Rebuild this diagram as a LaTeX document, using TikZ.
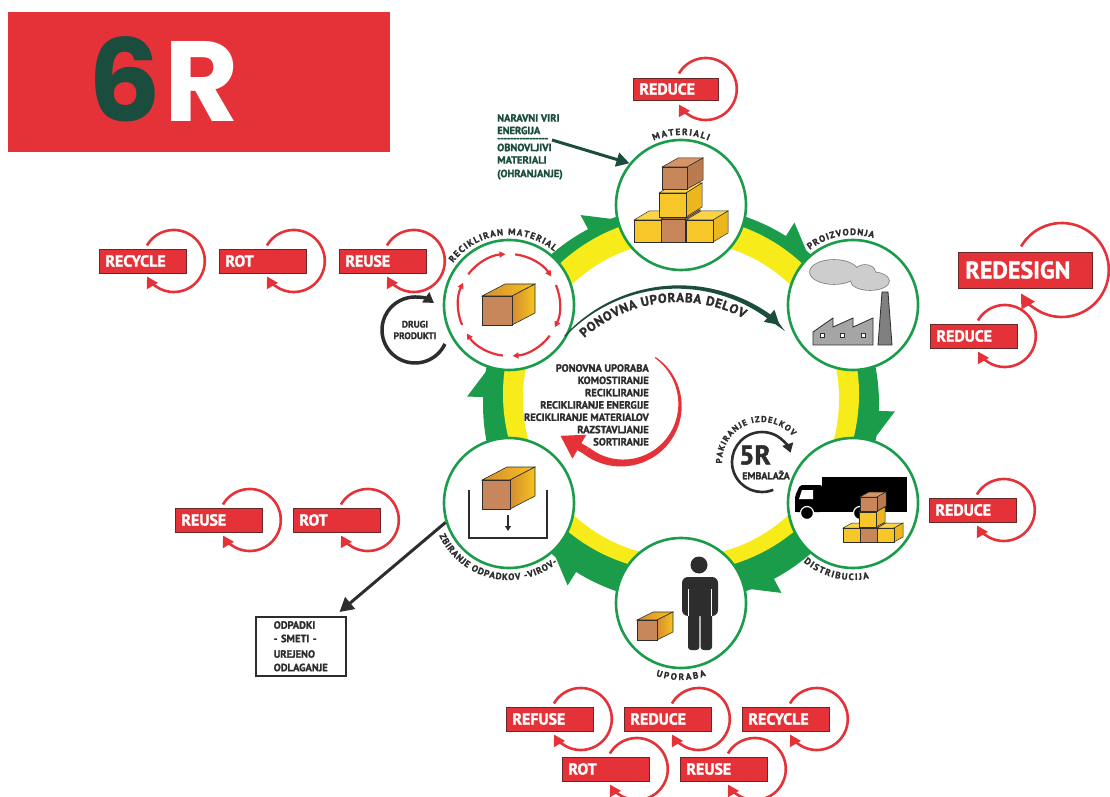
\documentclass[tikz,border=0pt]{standalone}
\usepackage{fontspec}
\setmainfont{PT Sans}[BoldFeatures={FakeBold=1.5}]
\newfontfamily\titlefont{Poppins}
\usepackage{xcolor}
\definecolor{red-600}{RGB}{229,50,56}
\definecolor{red-900}{RGB}{105,40,40}
\definecolor{green-600}{RGB}{26,156,74}
\definecolor{green-900}{RGB}{27,77,62}
\definecolor{yellow-400}{RGB}{247,236,26}
\definecolor{gray-800}{RGB}{45,45,45}
\definecolor{gray-500}{RGB}{128,128,128}
\definecolor{gray-400}{RGB}{165,165,165}
\definecolor{gray-300}{RGB}{205,205,205}
\definecolor{box-orange}{RGB}{214,140,50}
\definecolor{box-gold}{RGB}{246,196,30}
\definecolor{yel-front}{RGB}{247,198,40}
\definecolor{yel-top}{RGB}{250,212,70}
\definecolor{yel-side}{RGB}{236,182,30}
\definecolor{brn-front}{RGB}{200,135,90}
\definecolor{brn-top}{RGB}{212,148,102}
\definecolor{brn-side}{RGB}{186,122,80}
\usetikzlibrary{arrows.meta,decorations.text,positioning}

\newcommand{\ringfont}{\bfseries\fontsize{9.2}{10}\selectfont}
\newcommand{\tagfont}{\bfseries\fontsize{16}{18}\selectfont}
\newcommand{\bigtagfont}{\bfseries\fontsize{24}{26}\selectfont}
\newcommand{\notefont}{\bfseries\fontsize{10.5}{12.5}\selectfont}

% x, y, width, height, depth x, depth y, colour set
\newcommand{\crate}[7]{%
  \filldraw[draw=gray-800, line width=0.5pt, fill=#7-top] (#1,#2+#4) -- ++(#5,#6) -- ++(#3,0) -- ++(-#5,-#6) -- cycle;
  \filldraw[draw=gray-800, line width=0.5pt, fill=#7-side] (#1+#3,#2) -- ++(#5,#6) -- ++(0,#4) -- ++(-#5,-#6) -- cycle;
  \filldraw[draw=gray-800, line width=0.5pt, fill=#7-front] (#1,#2) rectangle ++(#3,#4);
}
% brown parcel with a golden lid
\newcommand{\parcel}[6]{%
  \shadedraw[draw=gray-800, line width=0.6pt, left color=box-orange, right color=box-gold] (#1,#2+#4) -- ++(#5,#6) -- ++(#3,0) -- ++(-#5,-#6) -- cycle;
  \shadedraw[draw=gray-800, line width=0.6pt, left color=box-orange, right color=box-gold] (#1+#3,#2) -- ++(#5,#6) -- ++(0,#4) -- ++(-#5,-#6) -- cycle;
  \filldraw[draw=gray-800, line width=0.6pt, fill=brn-front] (#1,#2) rectangle ++(#3,#4);
}

\begin{document}
\begin{tikzpicture}[
    x=1pt, y=1pt,
    stage/.style={
        circle,
        draw=green-600,
        line width=2.6pt,
        fill=white,
        minimum size=130pt,
        inner sep=0pt
    },
    rtag/.style={
        anchor=west,
        fill=red-600,
        draw=red-900,
        line width=0.8pt,
        text=white,
        font=\tagfont,
        minimum height=24pt,
        text width=75pt,
        inner xsep=6pt,
        inner ysep=0pt,
        align=left
    },
    tag loop/.style={red-600, line width=2.6pt, -{Triangle[length=11pt,width=12pt]}},
    ring label/.style={
        decorate,
        decoration={text along path, text color=gray-800, text align={fit to path}, text={|\ringfont|#1}}
    },
    cycle arrow/.style={red-600, line width=2.2pt, -{Triangle[length=6pt,width=6pt]}},
    dark arrow/.style={gray-800, line width=3.5pt, -{Triangle[length=9pt,width=11pt]}}
]
\useasboundingbox (0,0) rectangle (1110,796);

% Title banner
\node[fill=red-600, minimum width=382pt, minimum height=140pt, inner sep=0pt, anchor=south west] (banner) at (8,644) {};
\node[anchor=base west, inner sep=0pt, font=\titlefont\bfseries\fontsize{114}{114}\selectfont] (title) at (88,674)
    {\textcolor{green-900}{6}\kern4pt\textcolor{white}{R}};

% Ring of arrows
\coordinate (hub) at (681,392);
\fill[green-600] (hub) circle (198);
\fill[yellow-400] (681,402) circle (178);
\fill[white] (681,397) circle (158);
\foreach \e in {90,30,-30,-90,-150,150}
    \fill[green-600] ([shift={(\e+28:195)}]hub) -- ([shift={(\e+28:214)}]hub) -- ([shift={(\e+19:195)}]hub) -- cycle;

% Stages
\node[stage] (s1) at (681,591) {};
\node[stage] (s2) at (853,491) {};
\node[stage] (s3) at (853,293) {};
\node[stage] (s4) at (681,193) {};
\node[stage] (s5) at (509,293) {};
\node[stage] (s6) at (509,491) {};

\path[ring label=MATERIALI] ([shift={(113:70)}]s1.center) arc[start angle=113, end angle=67, radius=70];
\path[ring label=PROIZVODNJA] ([shift={(128:70)}]s2.center) arc[start angle=128, end angle=73, radius=70];
\path[ring label=DISTRIBUCIJA] ([shift={(230:77)}]s3.center) arc[start angle=230, end angle=282, radius=77];
\path[ring label=UPORABA] ([shift={(251:77)}]s4.center) arc[start angle=251, end angle=289, radius=77];
\path[ring label={ZBIRANJE ODPADKOV -VIROV-}] ([shift={(205:77)}]s5.center) arc[start angle=205, end angle=309, radius=77];
\path[ring label={RECIKLIRAN MATERIAL}] ([shift={(143:70)}]s6.center) arc[start angle=143, end angle=50, radius=70];

% Stage 1 - materials
\crate{634}{554}{27}{22}{15}{9}{yel}
\crate{661}{554}{24}{23}{15}{9}{brn}
\crate{686}{554}{27}{22}{15}{9}{yel}
\crate{659}{579}{27}{24}{16}{10}{yel}
\crate{662}{607}{25}{22}{16}{9}{brn}

% Stage 2 - factory
\foreach \cx/\cy/\rx/\ry in {834/524/24/12, 865/524/10/7, 870/515/19/9}
    \draw[gray-500, line width=1.6pt] (\cx,\cy) ellipse[x radius=\rx, y radius=\ry];
\foreach \cx/\cy/\rx/\ry in {834/524/24/12, 865/524/10/7, 870/515/19/9}
    \fill[gray-300] (\cx,\cy) ellipse[x radius=\rx, y radius=\ry];
\filldraw[fill=gray-400, draw=gray-800, line width=0.8pt] (813,451) -- (813,464) -- (833,478) -- (833,469) -- (853,478) -- (853,469) -- (873,478) -- (873,451) -- cycle;
\foreach \wx in {822,842,863}
    \filldraw[fill=white, draw=gray-800, line width=0.5pt] (\wx-1.8,459) rectangle ++(3.6,3.6);
\filldraw[fill=gray-500, draw=gray-800, line width=0.8pt] (878,451) -- (882,504) -- (888,504) -- (892,451) -- cycle;

% Stage 3 - truck
\fill[black] (822,291) rectangle (907,319);
\fill[black] (795,284) rectangle (907,291);
\fill[black, rounded corners=2pt] (795,284) -- (795,300) -- (800,311) -- (822,311) -- (822,284) -- cycle;
\fill[white] (799,297) -- (802,306) -- (813,306) -- (813,297) -- cycle;
\foreach \wx in {807,860}
    \filldraw[fill=black, draw=white, line width=1.2pt] (\wx,283) circle (6.5);
\crate{843}{254}{17}{14}{9}{5}{yel}
\crate{860}{254}{17}{14}{9}{5}{brn}
\crate{877}{254}{17}{14}{9}{5}{yel}
\crate{859}{269}{17}{15}{9}{5}{yel}
\crate{860}{285}{17}{14}{9}{5}{brn}

% Stage 4 - use
\fill[gray-800] (699,231) circle (8.5);
\fill[gray-800, rounded corners=6pt] (682,180) -- (682,219) -- (718,219) -- (718,180) -- cycle;
\fill[gray-800, rounded corners=3pt] (688,146) rectangle (699.4,192);
\fill[gray-800, rounded corners=3pt] (700.6,146) rectangle (712,192);
\draw[white, line width=0.9pt] (688.5,180) -- (688.5,207) (711.5,180) -- (711.5,207);
\parcel{637}{156}{20}{20}{16}{8}

% Stage 5 - collection
\parcel{482}{287}{28}{29}{25}{13}
\draw[gray-800, line width=2.4pt] (469,306) -- (469,258) -- (547,258) -- (547,306);
\draw[gray-800, line width=1.6pt, -{Triangle[length=5pt,width=6pt]}] (508,281) -- (508,265);

% Stage 6 - recycled material
\foreach \a in {0,60,...,300}
    \draw[cycle arrow] ([shift={(\a+143:51)}]s6.center) arc[start angle=\a+143, end angle=\a+94, radius=51];
\parcel{482}{471}{30}{29}{23}{12}

% Reuse of parts across the ring (tapered shaft)
\coordinate (bend) at (678,354);
\fill[green-900]
    plot[smooth, domain=137:53, samples=30, variable=\t] ({678+(155+0.6+1.9*(137-\t)/84)*cos(\t)}, {354+(155+0.6+1.9*(137-\t)/84)*sin(\t)})
    -- plot[smooth, domain=53:137, samples=30, variable=\t] ({678+(155-0.6-1.9*(137-\t)/84)*cos(\t)}, {354+(155-0.6-1.9*(137-\t)/84)*sin(\t)})
    -- cycle;
\draw[green-900, line width=5pt, -{Triangle[length=14pt,width=15pt]}]
    ([shift={(54:155)}]bend) arc[start angle=54, end angle=49, radius=155];
\path[decorate, decoration={text along path, text color=gray-800, text align={fit to path},
    text={|\bfseries\fontsize{13}{14}\selectfont|PONOVNA UPORABA DELOV}}]
    ([shift={(132:140)}]bend) arc[start angle=132, end angle=62, radius=140];

% Recovery options (tapered shaft)
\node[anchor=north east, align=right, inner sep=0pt, font=\bfseries\fontsize{10.5}{12.3}\selectfont, text=gray-800] (steps) at (649,432)
    {PONOVNA UPORABA\\KOMOSTIRANJE\\RECIKLIRANJE\\RECIKLIRANJE ENERGIJE\\RECIKLIRANJE MATERIALOV\\RAZSTAVLJANJE\\SORTIRANJE};
\coordinate (back) at (622,391);
\fill[red-600]
    plot[smooth, domain=55:-128, samples=40, variable=\t] ({622+(58+0.6+3.6*(55-\t)/183)*cos(\t)}, {391+(58+0.6+3.6*(55-\t)/183)*sin(\t)})
    -- plot[smooth, domain=-128:55, samples=40, variable=\t] ({622+(58-0.6-3.6*(55-\t)/183)*cos(\t)}, {391+(58-0.6-3.6*(55-\t)/183)*sin(\t)})
    -- cycle;
\draw[red-600, line width=8pt, -{Triangle[length=22pt,width=26pt]}] ([shift={(-128:58)}]back) -- ++(150:30);

% Resources
\node[anchor=north west, align=left, inner sep=0pt, font=\notefont, text=green-900] (sources) at (497,682)
    {NARAVNI VIRI\\ENERGIJA\\[-5pt]-{}-{}-{}-{}-{}-{}-{}-{}-{}-{}-{}-{}-{}-{}-{}-{}\\[-3pt]OBNOVLJIVI\\MATERIALI\\[1pt](OHRANJANJE)};
\coordinate (feed) at (552,656);
\draw[green-900, line width=3pt, -{Triangle[length=13pt,width=14pt]}] (feed) -- (s1.141);

% Other products
\node[align=center, inner sep=0pt, font=\bfseries\fontsize{9.5}{11.5}\selectfont, text=gray-800] (other) at (415,466) {DRUGI\\PRODUKTI};
\draw[gray-800, line width=3.5pt, -{Triangle[length=10pt,width=12pt]}]
    ([shift={(-25:33)}]other.center) arc[start angle=-25, end angle=-305, radius=33];

% Packaging
\coordinate (pack) at (762,334);
\node[inner sep=0pt, font=\bfseries\fontsize{27}{27}\selectfont, text=gray-800] (fiver) at (755,341) {5R};
\node[inner sep=0pt, font=\bfseries\fontsize{10}{11}\selectfont, text=gray-800] (wrap) at (766,321) {EMBALAŽA};
\draw[dark arrow, line width=2.6pt] ([shift={(-68:30)}]pack) arc[start angle=-68, end angle=-342, radius=30];
\path[decorate, decoration={text along path, text color=gray-800, text align={fit to path},
    text={|\bfseries\fontsize{8.5}{10}\selectfont|PAKIRANJE IZDELKOV}}]
    ([shift={(182:40)}]pack) arc[start angle=182, end angle=40, radius=40];

% Waste
\node[draw=gray-800, line width=1.5pt, anchor=north west, minimum width=90pt, minimum height=59pt,
    text width=54pt, inner xsep=18pt, align=left, font=\bfseries\fontsize{10.5}{13.5}\selectfont, text=gray-800] (waste) at (255,180)
    {ODPADKI\\- SMETI -\\[2pt]UREJENO\\ODLAGANJE};
\draw[dark arrow, line width=3pt, -{Triangle[length=14pt,width=15pt]}] (s5.197) -- ([xshift=-7pt,yshift=4pt]waste.north east);

% R tags
\node[rtag] (t1) at (99,535) {RECYCLE};
\node[rtag] (t2) at (219,535) {ROT};
\node[rtag] (t3) at (339,535) {REUSE};
\node[rtag, minimum height=22pt, text width=73pt] (t4) at (633,707) {REDUCE};
\node[rtag, font=\bigtagfont, minimum height=36pt, text width=120pt, inner xsep=7pt] (t5) at (958,526) {REDESIGN};
\node[rtag] (t6) at (930,460) {REDUCE};
\node[rtag] (t7) at (929,286) {REDUCE};
\node[rtag] (t8) at (175,276) {REUSE};
\node[rtag] (t9) at (293,276) {ROT};
\node[rtag] (t10) at (506,77) {REFUSE};
\node[rtag] (t11) at (624,77) {REDUCE};
\node[rtag] (t12) at (742,77) {RECYCLE};
\node[rtag] (t13) at (562,27) {ROT};
\node[rtag] (t14) at (680,27) {REUSE};

\foreach \t in {t1,t2,t3,t4,t6,t7,t8,t9,t10,t11,t12,t13,t14}
    \draw[tag loop] ([xshift=-13pt]\t.east) ++(150:31) arc[start angle=150, end angle=-150, radius=31];
\draw[tag loop, -{Triangle[length=14pt,width=15pt]}] ([xshift=-31pt]t5.east) ++(150:47) arc[start angle=150, end angle=-150, radius=47];

\end{tikzpicture}
\end{document}
